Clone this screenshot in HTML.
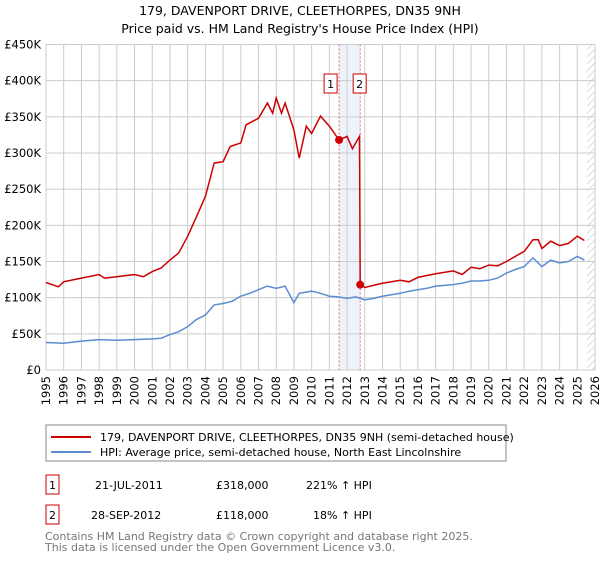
<!DOCTYPE html>
<html><head><meta charset="utf-8"><style>
body{margin:0;background:#fff;font-family:"DejaVu Sans","Liberation Sans",sans-serif;}
svg text{font-family:"DejaVu Sans","Liberation Sans",sans-serif;}
</style></head><body>
<svg id="chart" width="600" height="560" xmlns="http://www.w3.org/2000/svg">
<defs><pattern id="hatch" width="5" height="5" patternUnits="userSpaceOnUse" patternTransform="rotate(45)"><line x1="0" y1="0" x2="0" y2="5" stroke="#bbb" stroke-width="1"/></pattern></defs>
<text x="300" y="15" text-anchor="middle" font-size="12.5">179, DAVENPORT DRIVE, CLEETHORPES, DN35 9NH</text>
<text x="300" y="33" text-anchor="middle" font-size="12.5">Price paid vs. HM Land Registry's House Price Index (HPI)</text>
<g id="grid"></g><g id="axes"></g><g id="series"></g><g id="markers"></g>
<rect x="46" y="425" width="460" height="36" fill="#fff" stroke="#888"/>
<line x1="51" y1="437" x2="91" y2="437" stroke="#cc0000" stroke-width="2"/>
<text x="100" y="441" font-size="11">179, DAVENPORT DRIVE, CLEETHORPES, DN35 9NH (semi-detached house)</text>
<line x1="51" y1="452" x2="91" y2="452" stroke="#5b8dd0" stroke-width="2"/>
<text x="100" y="456" font-size="11">HPI: Average price, semi-detached house, North East Lincolnshire</text>
<rect x="46" y="475" width="13" height="19" fill="#fff" stroke="#cc0000"/>
<text x="52.5" y="489" text-anchor="middle" font-size="11">1</text>
<text x="95" y="489" font-size="11">21-JUL-2011</text>
<text x="216" y="489" font-size="11">£318,000</text>
<text x="306" y="489" font-size="11">221% ↑ HPI</text>
<rect x="46" y="505" width="13" height="19" fill="#fff" stroke="#cc0000"/>
<text x="52.5" y="519" text-anchor="middle" font-size="11">2</text>
<text x="91" y="519" font-size="11">28-SEP-2012</text>
<text x="216" y="519" font-size="11">£118,000</text>
<text x="313" y="519" font-size="11">18% ↑ HPI</text>
<text x="45" y="540" font-size="11" fill="#777">Contains HM Land Registry data © Crown copyright and database right 2025.</text>
<text x="45" y="551" font-size="11" fill="#777">This data is licensed under the Open Government Licence v3.0.</text>
</svg>
<script>
const yTicks=[0,50000,100000,150000,200000,250000,300000,350000,400000,450000];
const yTickLabels=["£0","£50K","£100K","£150K","£200K","£250K","£300K","£350K","£400K","£450K"];
const years=[1995,1996,1997,1998,1999,2000,2001,2002,2003,2004,2005,2006,2007,2008,2009,2010,2011,2012,2013,2014,2015,2016,2017,2018,2019,2020,2021,2022,2023,2024,2025,2026];
const hpiT=[1995,1996,1997,1998,1999,2000,2001,2001.5,2002,2002.5,2003,2003.5,2004,2004.5,2005,2005.5,2006,2006.5,2007,2007.5,2008,2008.5,2009,2009.3,2010,2010.5,2011,2011.5,2012,2012.5,2013,2013.5,2014,2014.5,2015,2015.5,2016,2016.5,2017,2017.5,2018,2018.5,2019,2019.5,2020,2020.5,2021,2021.5,2022,2022.5,2023,2023.5,2024,2024.5,2025,2025.4];
const hpiV=[38,37,40,42,41,42,43,44,49,53,60,70,76,90,92,95,102,106,111,116,113,116,93,106,109,106,102,101,99,101,97,99,102,104,106,109,111,113,116,117,118,120,123,123,124,127,134,139,143,155,143,152,148,150,157,152];
const redT=[1995,1995.7,1996,1997,1998,1998.3,1999,2000,2000.5,2001,2001.5,2002,2002.5,2003,2003.5,2004,2004.5,2005,2005.4,2006,2006.3,2007,2007.5,2007.8,2008,2008.3,2008.5,2009,2009.3,2009.7,2010,2010.5,2011,2011.55,2012,2012.3,2012.7,2012.74,2013,2014,2015,2015.5,2016,2017,2018,2018.5,2019,2019.5,2020,2020.5,2021,2021.5,2022,2022.5,2022.8,2023,2023.5,2024,2024.5,2025,2025.4];
const redV=[121,115,122,127,132,127,129,132,129,136,141,152,162,185,212,240,286,288,309,314,339,348,369,355,376,355,369,332,293,337,327,351,337,318,323,306,323,118,114,120,124,122,128,133,137,132,142,140,145,144,150,157,164,180,180,168,178,172,175,185,179];
const saleT=[2011.55,2012.74];
const saleV=[318,118];
const saleLabels=["1","2"];
const X0=46,X1=595,Y0=370,Y1=44.5;
const xs=t=>X0+(t-1995)/31*(X1-X0);
const ys=v=>Y0-v/450000*(Y0-Y1);
const NS="http://www.w3.org/2000/svg";
function mk(tag,attrs,parent){const e=document.createElementNS(NS,tag);for(const k in attrs)e.setAttribute(k,attrs[k]);parent.appendChild(e);return e;}
const grid=document.getElementById('grid'),axes=document.getElementById('axes'),ser=document.getElementById('series'),mkr=document.getElementById('markers');
// shaded band
let band=mk('rect',{x:xs(saleT[0]),y:Y1,width:xs(saleT[1])-xs(saleT[0]),height:Y0-Y1,fill:'#eef2fb'},grid);


let hat=mk('rect',{x:xs(2025.55),y:Y1,width:X1-xs(2025.55),height:Y0-Y1,fill:'url(#hatch)'},grid);


yTicks.forEach((v,i)=>{
 let l=mk('line',{x1:X0,x2:X1,y1:ys(v),y2:ys(v),stroke:'#ccc'},grid);
 
 
 let t=mk('text',{x:X0-5,y:ys(v)+4,'text-anchor':'end','font-size':'11.5'},axes);
 t.textContent=yTickLabels[i];
 
 
});
years.forEach(y=>{
 let l=mk('line',{x1:xs(y),x2:xs(y),y1:Y1,y2:Y0,stroke:'#ccc'},grid);
 
 
 let t=mk('text',{x:0,y:0,'text-anchor':'end','font-size':'11.5',transform:`translate(${xs(y)+4},${Y0+6}) rotate(-90)`},axes);
 t.textContent=y;
 
 
});
saleT.forEach((t,i)=>{
 let l=mk('line',{x1:xs(t),x2:xs(t),y1:Y1,y2:Y0,stroke:'#e05050','stroke-dasharray':'2,2','stroke-width':0.8},grid);
 
 
});
function path(T,V){return T.map((t,i)=>(i?'L':'M')+xs(t).toFixed(1)+','+ys(V[i]*1000).toFixed(1)).join('');}
let hp=mk('path',{d:path(hpiT,hpiV),fill:'none',stroke:'#5b8dd0','stroke-width':1.5},ser);


let rp=mk('path',{d:path(redT,redV),fill:'none',stroke:'#cc0000','stroke-width':1.5},ser);


saleT.forEach((t,i)=>{
 let c=mk('circle',{cx:xs(t),cy:ys(saleV[i]*1000),r:4,fill:'#cc0000'},mkr);
 
 
 const bx=i===0?xs(t)-15:xs(t)-7;
 let r=mk('rect',{x:bx,y:74,width:13,height:19,fill:'#fff',stroke:'#cc0000'},mkr);
 
 
 let tx=mk('text',{x:bx+6.5,y:88,'text-anchor':'middle','font-size':'11'},mkr);
 tx.textContent=saleLabels[i];
 
 
});
</script>
</body></html>
